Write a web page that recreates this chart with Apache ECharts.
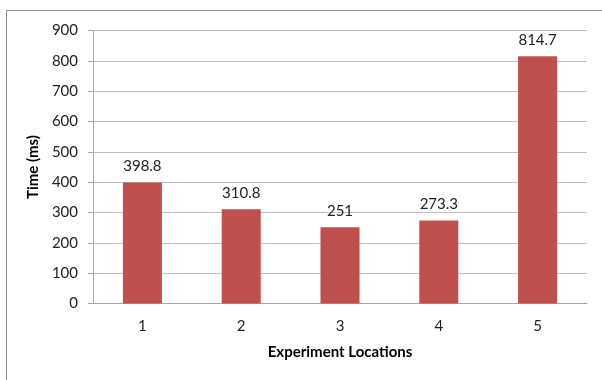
<!DOCTYPE html>
<html>
<head>
<meta charset="utf-8">
<script src="https://cdn.jsdelivr.net/npm/echarts@6/dist/echarts.min.js"></script>
<style>
html,body{margin:0;padding:0;background:#fff;}
#chart{width:602px;height:380px;}
</style>
</head>
<body>
<div id="chart"></div>
<script>
// Mean response time at each experiment location
const locations = ['1', '2', '3', '4', '5'];
const timesMs = [398.8, 310.8, 251, 273.3, 814.7];
const yTicks = { min: 0, max: 900, interval: 100 };

const font = 'Lato, "Open Sans", "Liberation Sans", sans-serif';
const chart = echarts.init(document.getElementById('chart'), null, { renderer: 'canvas' });

chart.setOption({
  animation: false,
  backgroundColor: '#ffffff',
  graphic: [{
    type: 'rect',
    shape: { x: 6.5, y: 10.5, width: 620, height: 400 },
    style: { fill: 'none', stroke: '#8c8c8c', lineWidth: 1 },
    silent: true
  }],
  grid: { left: 93, right: 15, top: 30.5, bottom: 76.5 },
  xAxis: {
    type: 'category',
    data: locations,
    name: 'Experiment Locations',
    nameLocation: 'middle',
    nameGap: 41,
    nameTextStyle: { fontFamily: font, fontSize: 15, fontWeight: 'bold', color: '#000' },
    axisLine: { lineStyle: { color: '#a6a6a6' } },
    axisTick: { show: false },
    axisLabel: { fontFamily: font, fontSize: 15, color: '#222', margin: 15 }
  },
  yAxis: {
    type: 'value',
    min: yTicks.min,
    max: yTicks.max,
    interval: yTicks.interval,
    name: 'Time (ms)',
    nameLocation: 'middle',
    nameGap: 44,
    nameRotate: 90,
    nameTextStyle: { fontFamily: font, fontSize: 15, fontWeight: 'bold', color: '#000' },
    axisLine: { show: true, lineStyle: { color: '#a6a6a6' } },
    axisTick: { show: true, length: 5, lineStyle: { color: '#a6a6a6' } },
    axisLabel: { fontFamily: font, fontSize: 15, color: '#222', margin: 15 },
    splitLine: { lineStyle: { color: '#bfbfbf' } }
  },
  series: [{
    type: 'bar',
    data: timesMs,
    barWidth: '39.5%',
    itemStyle: { color: '#c0504d' },
    label: {
      show: true,
      position: 'top',
      distance: 9,
      fontFamily: font,
      fontSize: 15,
      color: '#222'
    }
  }]
});
</script>
</body>
</html>
